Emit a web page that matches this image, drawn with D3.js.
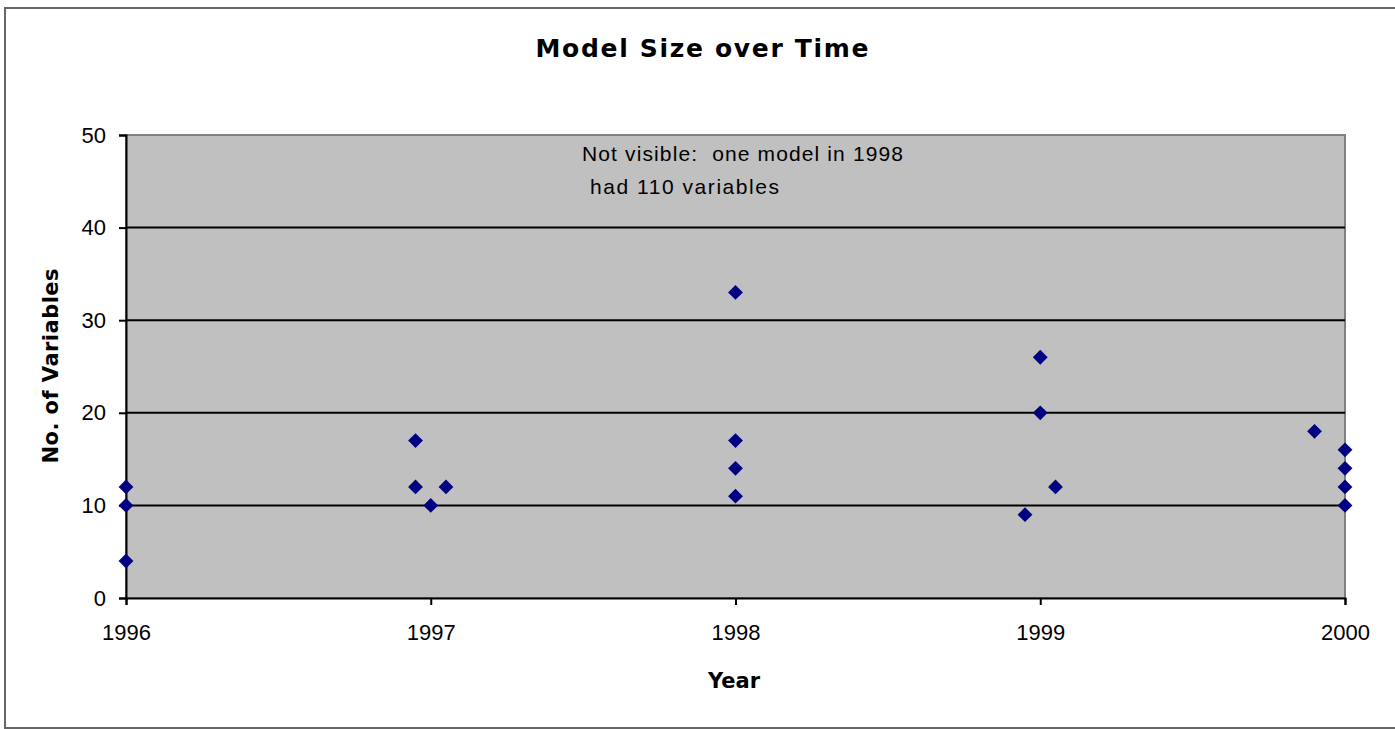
<!DOCTYPE html>
<html>
<head>
<meta charset="utf-8">
<script src="https://cdn.jsdelivr.net/npm/d3@7"></script>
<style>
  body { margin: 0; background: #fff; }
  text { font-family: "Liberation Sans", Arial, sans-serif; }
  .bold { font-family: "DejaVu Sans", sans-serif; font-weight: bold; }
</style>
</head>
<body>
<svg id="chart" width="1395" height="729"></svg>
<script>
// year (fractional, points are nudged a little around the year) and no. of variables
const years = [1996, 1996, 1996, 1996.95, 1996.95, 1997, 1997.05,
  1998, 1998, 1998, 1998, 1998.95, 1999, 1999, 1999.05,
  1999.9, 2000, 2000, 2000, 2000];
const variables = [12, 10, 4, 17, 12, 10, 12,
  33, 17, 14, 11, 9, 26, 20, 12,
  18, 16, 14, 12, 10];
const xTicks = [1996, 1997, 1998, 1999, 2000];
const yTicks = [0, 10, 20, 30, 40, 50];
const note = ["Not visible:  one model in 1998", "had 110 variables"];

const svg = d3.select("#chart");
const plotLeft = 126, plotRight = 1345, plotTop = 135, plotBottom = 598;

// outer chart frame
svg.append("rect")
  .attr("x", 5).attr("y", 8)
  .attr("width", 1400).attr("height", 720)
  .attr("fill", "#fff")
  .attr("stroke", "#666").attr("stroke-width", 2);

const x = d3.scaleLinear().domain([1996, 2000]).range([plotLeft, plotRight]);
const y = d3.scaleLinear().domain([0, 50]).range([plotBottom, plotTop]);

// plot area
svg.append("rect")
  .attr("x", plotLeft).attr("y", plotTop)
  .attr("width", plotRight - plotLeft).attr("height", plotBottom - plotTop)
  .attr("fill", "#c0c0c0")
  .attr("stroke", "#808080").attr("stroke-width", 2);

// gridlines
svg.append("g")
  .selectAll("line")
  .data(yTicks.filter(d => d > 0 && d < 50))
  .enter().append("line")
  .attr("x1", plotLeft).attr("x2", plotRight)
  .attr("y1", d => y(d)).attr("y2", d => y(d))
  .attr("stroke", "#000").attr("stroke-width", 2);

// y axis
const yAxis = svg.append("g")
  .attr("transform", "translate(" + plotLeft + ",0)")
  .call(d3.axisLeft(y).tickValues(yTicks).tickSize(7).tickPadding(13));
yAxis.select(".domain").attr("stroke", "#000").attr("stroke-width", 2);
yAxis.selectAll(".tick line").attr("stroke-width", 2);
yAxis.selectAll("text").style("font-size", "22px").attr("fill", "#000");

// x axis
const xAxis = svg.append("g")
  .attr("transform", "translate(0," + plotBottom + ")")
  .call(d3.axisBottom(x).tickValues(xTicks).tickFormat(d3.format("d")).tickSize(7).tickPadding(19));
xAxis.select(".domain").attr("stroke", "#000").attr("stroke-width", 2);
xAxis.selectAll(".tick line").attr("stroke-width", 2);
xAxis.selectAll("text").style("font-size", "22px").attr("fill", "#000");

// points
const pts = years.map((d, i) => ({ year: d, n: variables[i] }));
svg.append("g")
  .selectAll("path")
  .data(pts)
  .enter().append("path")
  .attr("d", d3.symbol().type(d3.symbolSquare).size(110))
  .attr("transform", d => "translate(" + x(d.year) + "," + y(d.n) + ") rotate(45)")
  .attr("fill", "#000080");

// title
svg.append("text")
  .attr("class", "bold")
  .attr("x", 702).attr("y", 57)
  .attr("text-anchor", "middle")
  .attr("textLength", 333).attr("lengthAdjust", "spacing")
  .style("font-size", "25px")
  .text("Model Size over Time");

// note
const noteX = [582, 590], noteW = [321, 189];
svg.append("g")
  .selectAll("text")
  .data(note)
  .enter().append("text")
  .attr("x", (d, i) => noteX[i])
  .attr("y", (d, i) => 161 + i * 33)
  .attr("xml:space", "preserve")
  .attr("textLength", (d, i) => noteW[i]).attr("lengthAdjust", "spacing")
  .style("font-size", "21px")
  .text(d => d);

// axis titles
svg.append("text")
  .attr("class", "bold")
  .attr("x", 734).attr("y", 688)
  .attr("text-anchor", "middle")
  .attr("textLength", 52).attr("lengthAdjust", "spacing")
  .style("font-size", "21px")
  .text("Year");

svg.append("text")
  .attr("class", "bold")
  .attr("transform", "translate(58,366) rotate(-90)")
  .attr("text-anchor", "middle")
  .attr("textLength", 195).attr("lengthAdjust", "spacing")
  .style("font-size", "21px")
  .text("No. of Variables");
</script>
</body>
</html>
